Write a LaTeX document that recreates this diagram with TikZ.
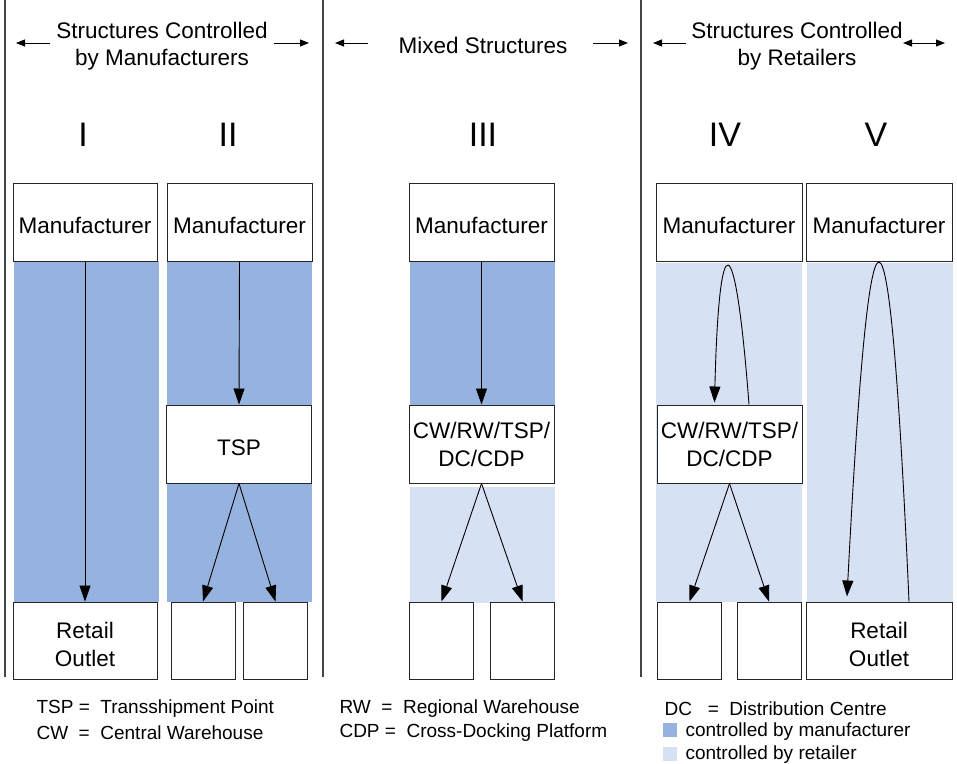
\documentclass[tikz,border=0pt]{standalone}
\usepackage{fontspec}
\setmainfont{Liberation Sans}
\usetikzlibrary{arrows.meta,calc}
\definecolor{mfr}{HTML}{95B3DE}
\definecolor{ret}{HTML}{D7E1F4}
\definecolor{sep}{HTML}{444444}
\begin{document}
\begin{tikzpicture}[x=1pt,y=-1pt,
  box/.style={draw=black!85, line width=1pt, fill=white, inner sep=0pt, align=center,
    minimum height=78pt, font=\fontsize{22.5}{28}\selectfont},
  lbl/.style={execute at begin node={\rule{0pt}{24pt}}},
  widebox/.style={box, minimum width=145pt},
  smallbox/.style={box, minimum width=64pt},
  flow/.style={-{Triangle[length=16pt,width=11pt]}, line width=0.9pt},
  hdrarrow/.style={-{Triangle[length=9pt,width=7pt]}, line width=0.9pt},
  hdr/.style={align=center, font=\fontsize{22.5}{26.5}\selectfont},
  roman/.style={font=\fontsize{34}{34}\selectfont},
  legend/.style={anchor=west, font=\fontsize{19}{21}\selectfont},
  septr/.style={draw=sep, line width=1.3pt}
]
\useasboundingbox (0,0) rectangle (957,763);

% shading
\fill[mfr] (14,261) rectangle (159,602);
\fill[mfr] (167,261) rectangle (312,602);
\fill[mfr] (410,261) rectangle (555,405);
\fill[ret] (410,487) rectangle (555,603);
\fill[ret] (656,263) rectangle (802,602);
\fill[ret] (807,263) rectangle (953,602);

% separators
\coordinate (sA1) at (5,0);   \coordinate (sA2) at (5,677);
\coordinate (sB1) at (323,0); \coordinate (sB2) at (323,677);
\coordinate (sC1) at (641,0); \coordinate (sC2) at (641,677);
\draw[septr] (sA1) -- (sA2);
\draw[septr] (sB1) -- (sB2);
\draw[septr] (sC1) -- (sC2);

% headers
\node[hdr] (h1) at (162,46) {Structures Controlled\\by Manufacturers};
\node[hdr] (h2) at (483,45) {Mixed Structures};
\node[hdr] (h3) at (797,46) {Structures Controlled\\by Retailers};
\coordinate (a1l) at (16,43);  \coordinate (a1la) at (50,43);
\coordinate (a1r) at (309,43); \coordinate (a1ra) at (274,43);
\coordinate (a2l) at (335,43); \coordinate (a2la) at (368,43);
\coordinate (a2r) at (628,43); \coordinate (a2ra) at (593,43);
\coordinate (a3l) at (653,43); \coordinate (a3la) at (686,43);
\coordinate (a3r) at (945,43); \coordinate (a3ra) at (903,43);
\draw[hdrarrow] (a1la) -- (a1l);
\draw[hdrarrow] (a1ra) -- (a1r);
\draw[hdrarrow] (a2la) -- (a2l);
\draw[hdrarrow] (a2ra) -- (a2r);
\draw[hdrarrow] (a3la) -- (a3l);
\draw[hdrarrow, {Triangle[length=9pt,width=7pt]}-{Triangle[length=9pt,width=7pt]}] (a3ra) -- (a3r);

% roman numerals
\node[roman] (r1n) at (83,135) {I};
\node[roman] (r2n) at (228,135) {II};
\node[roman] (r3n) at (483,135) {III};
\node[roman] (r4n) at (725,135) {IV};
\node[roman] (r5n) at (876,135) {V};

% manufacturers
\node[box, lbl, minimum width=144pt] (m1) at (85,222) {Manufacturer};
\node[widebox, lbl] (m2) at (239.5,222) {Manufacturer};
\node[widebox, lbl] (m3) at (481.5,222) {Manufacturer};
\node[box, lbl, minimum width=146pt] (m4) at (729,222) {Manufacturer};
\node[box, lbl, minimum width=146pt] (m5) at (879,222) {Manufacturer};

% intermediate
\node[widebox, lbl] (tsp) at (239,444) {TSP};
\node[widebox] (cw3) at (481.5,444) {CW/RW/TSP/\\DC/CDP};
\node[widebox] (cw4) at (729.5,444) {CW/RW/TSP/\\DC/CDP};

% outlets
\node[box, minimum width=144pt, minimum height=77pt] (o1) at (85,640.5) {\rule{0pt}{25pt}Retail\\Outlet};
\node[smallbox, minimum height=77pt] (s2a) at (203,640.5) {};
\node[smallbox, minimum height=77pt] (s2b) at (275.5,640.5) {};
\node[smallbox, minimum height=77pt] (s3a) at (441.5,640.5) {};
\node[smallbox, minimum height=77pt] (s3b) at (522.5,640.5) {};
\node[smallbox, minimum height=77pt] (s4a) at (689.5,640.5) {};
\node[smallbox, minimum height=77pt] (s4b) at (769,640.5) {};
\node[box, minimum width=146pt, minimum height=77pt] (o5) at (879,640.5) {\rule{0pt}{25pt}Retail\\Outlet};

% flows
\draw[flow] (m1.south) -- (o1.north);
\draw[flow] (m2.south) -- (tsp.north);
\draw[flow] (tsp.south) -- (s2a.north);
\draw[flow] (tsp.south) -- (s2b.north);
\draw[flow] (m3.south) -- (cw3.north);
\draw[flow] (cw3.south) -- (s3a.north);
\draw[flow] (cw3.south) -- (s3b.north);
\draw[flow] (cw4.south) -- (s4a.north);
\draw[flow] (cw4.south) -- (s4b.north);
\draw[flow] ($(cw4.north)+(19.5,0)$) .. controls ($(cw4.north)+(5.5,-183)$) and ($(cw4.north)+(-10.5,-183)$) .. ($(cw4.north)+(-15,-2)$);
\draw[flow] ($(o5.north)+(30,0)$) .. controls ($(o5.north)+(10,-449)$) and ($(o5.north)+(-9,-449)$) .. ($(o5.north)+(-32,-5)$);

% legend
\node[legend] (l1) at (33,709) {TSP =\ \ Transshipment Point};
\node[legend] (l2) at (33,733) {CW\ \ =\ \ Central Warehouse};
\node[legend] (l3) at (336,709) {RW\ \ =\ \ Regional Warehouse};
\node[legend] (l4) at (336,733) {CDP =\ \ Cross-Docking Platform};
\node[legend] (l5) at (661,709) {DC\ \ \ =\ \ Distribution Centre};
\node[legend] (l6) at (682,732) {controlled by manufacturer};
\node[legend] (l7) at (682,755) {controlled by retailer};
\fill[mfr] (663,723) rectangle (677,737);
\fill[ret] (663,747) rectangle (677,761);
\end{tikzpicture}
\end{document}
